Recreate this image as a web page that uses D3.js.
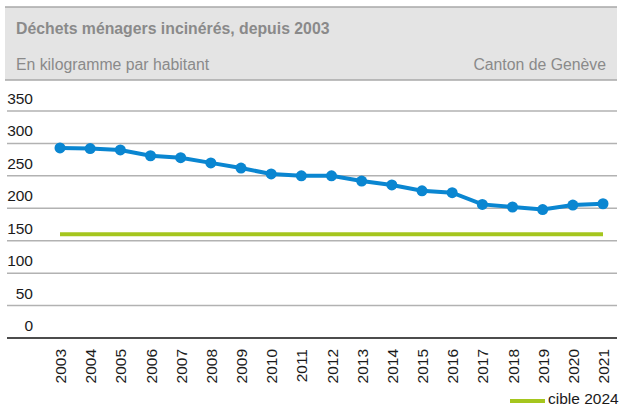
<!DOCTYPE html>
<html>
<head>
<meta charset="utf-8">
<script src="https://cdn.jsdelivr.net/npm/d3@7"></script>
<style>
	body { margin: 0; background: #fff; }
	text { font-family: "Liberation Sans", Arial, sans-serif; }
</style>
</head>
<body>
<div id="chart"></div>
<script>
const years = ["2003", "2004", "2005", "2006", "2007", "2008", "2009", "2010", "2011", "2012", "2013", "2014", "2015", "2016", "2017", "2018", "2019", "2020", "2021"];
const incinerated = [293, 292, 290, 281, 278, 270, 262, 253, 250, 250, 242, 236, 227, 224, 206, 202, 198, 205, 207];
const target2024 = 160;
const yTicks = [0, 50, 100, 150, 200, 250, 300, 350];
const title = "Déchets ménagers incinérés, depuis 2003";
const subtitle = "En kilogramme par habitant";
const source = "Canton de Genève";
const legendLabel = "cible 2024";

const width = 621;
const height = 407;
const blue = "#0a86d1";
const green = "#a5c61e";

const svg = d3
	.select("#chart")
	.append("svg")
	.attr("width", width)
	.attr("height", height);

// header band
svg.append("rect").attr("x", 5).attr("y", 7).attr("width", 612).attr("height", 73).attr("fill", "#e4e4e4");
svg.append("line").attr("x1", 5).attr("x2", 617).attr("y1", 7).attr("y2", 7).attr("stroke", "#a8a8a8").attr("stroke-width", 1.5);
svg.append("line").attr("x1", 5).attr("x2", 617).attr("y1", 80).attr("y2", 80).attr("stroke", "#a8a8a8").attr("stroke-width", 1.5);
svg.append("text").attr("x", 16).attr("y", 34).attr("font-size", 15.8).attr("font-weight", "bold").attr("fill", "#8a8a8a").text(title);
svg.append("text").attr("x", 16).attr("y", 70).attr("font-size", 15.8).attr("fill", "#8a8a8a").text(subtitle);
svg.append("text").attr("x", 606).attr("y", 70).attr("font-size", 15.8).attr("fill", "#8a8a8a").attr("text-anchor", "end").text(source);

const x = d3.scalePoint().domain(years).range([60, 603]);
const y = d3.scaleLinear().domain([0, 350]).range([338, 111]);

// gridlines + y labels
const grid = svg.append("g");
yTicks.forEach((t) => {
	grid.append("line")
		.attr("x1", 7)
		.attr("x2", 617)
		.attr("y1", y(t))
		.attr("y2", y(t))
		.attr("stroke", t === 0 ? "#111" : "#b2b2b2")
		.attr("stroke-width", 1.5);
	grid.append("text")
		.attr("x", 33)
		.attr("y", y(t) - 7)
		.attr("text-anchor", "end")
		.attr("font-size", 15.5)
		.attr("fill", "#1a1a1a")
		.text(t);
});

// x labels
const xAxis = d3.axisBottom(x).tickSize(0).tickPadding(0);
const gx = svg.append("g").attr("transform", "translate(0,349)").call(xAxis);
gx.select(".domain").remove();
gx.selectAll("text")
	.attr("font-family", "Liberation Sans, Arial, sans-serif")
	.attr("font-size", 15.5)
	.attr("fill", "#1a1a1a")
	.attr("text-anchor", "end")
	.attr("dy", null)
	.attr("y", 0)
	.attr("x", 0)
	.attr("transform", "rotate(-90) translate(0,5.5)");

// target line
svg.append("line")
	.attr("x1", x(years[0]))
	.attr("x2", x(years[years.length - 1]))
	.attr("y1", y(target2024))
	.attr("y2", y(target2024))
	.attr("stroke", green)
	.attr("stroke-width", 4);

// data line
const line = d3.line().x((d, i) => x(years[i])).y((d) => y(d));
svg.append("path")
	.datum(incinerated)
	.attr("fill", "none")
	.attr("stroke", blue)
	.attr("stroke-width", 4)
	.attr("d", line);
svg.selectAll(".dot")
	.data(incinerated)
	.enter()
	.append("circle")
	.attr("class", "dot")
	.attr("cx", (d, i) => x(years[i]))
	.attr("cy", (d) => y(d))
	.attr("r", 5.5)
	.attr("fill", blue);

// legend
svg.append("line").attr("x1", 510).attr("x2", 545).attr("y1", 401).attr("y2", 401).attr("stroke", green).attr("stroke-width", 4);
svg.append("text").attr("x", 548).attr("y", 404).attr("font-size", 15.5).attr("fill", "#1a1a1a").text(legendLabel);
</script>
</body>
</html>
